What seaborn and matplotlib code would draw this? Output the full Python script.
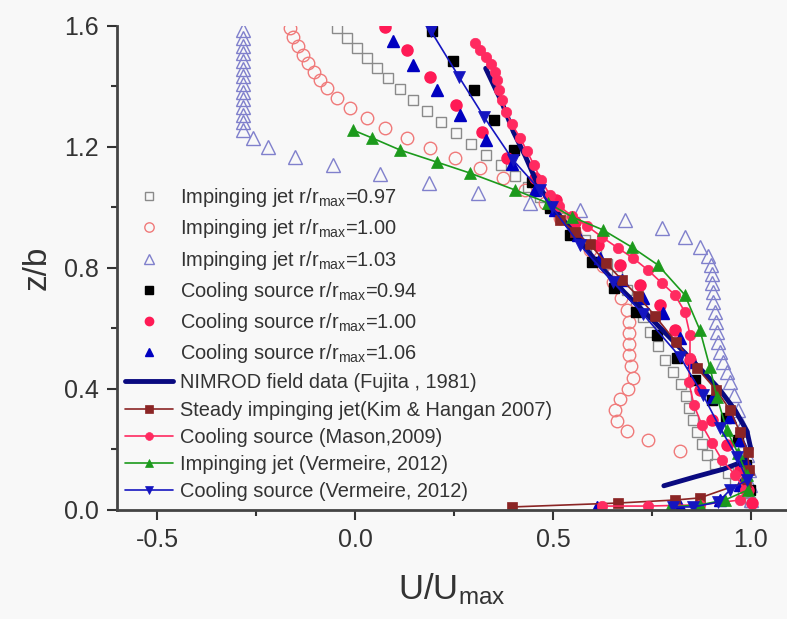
import matplotlib
matplotlib.use("Agg")
import matplotlib.pyplot as plt
import seaborn as sns
from matplotlib.ticker import MultipleLocator

# ---- data (U/Umax, z/b) ----
ij097_x = [-0.045, -0.020, 0.005, 0.030, 0.056, 0.083, 0.114, 0.146, 0.182, 0.217, 0.255, 0.293,
           0.331, 0.369, 0.404, 0.437, 0.467, 0.497, 0.525, 0.553, 0.581, 0.609, 0.636, 0.662,
           0.687, 0.710, 0.727, 0.745, 0.765, 0.783, 0.803, 0.823, 0.836, 0.843, 0.854, 0.864,
           0.876, 0.889, 0.909, 0.942, 0.960, 0.980, 0.997]
ij097_z = [1.593, 1.560, 1.527, 1.494, 1.461, 1.428, 1.392, 1.355, 1.319, 1.283, 1.246, 1.210,
           1.174, 1.140, 1.104, 1.068, 1.035, 1.002, 0.965, 0.929, 0.893, 0.853, 0.813, 0.774,
           0.727, 0.681, 0.638, 0.588, 0.542, 0.496, 0.456, 0.417, 0.377, 0.337, 0.298, 0.258,
           0.218, 0.182, 0.152, 0.122, 0.089, 0.056, 0.026]

ij100_x = [-0.164, -0.157, -0.144, -0.131, -0.119, -0.104, -0.088, -0.071, -0.045, -0.013, 0.030,
           0.076, 0.131, 0.189, 0.253, 0.316, 0.374, 0.429, 0.480, 0.518, 0.556, 0.593, 0.626,
           0.652, 0.672, 0.687, 0.692, 0.692, 0.692, 0.692, 0.697, 0.702, 0.689, 0.669, 0.657,
           0.662, 0.687, 0.740, 0.821]
ij100_z = [1.593, 1.564, 1.534, 1.504, 1.478, 1.448, 1.421, 1.395, 1.362, 1.329, 1.296,
           1.263, 1.230, 1.197, 1.164, 1.131, 1.098, 1.058, 1.015, 0.965, 0.912, 0.860, 0.807,
           0.754, 0.701, 0.661, 0.621, 0.585, 0.549, 0.512, 0.476, 0.436, 0.400, 0.367, 0.331,
           0.294, 0.261, 0.231, 0.195]

ij103_x = [-0.283] * 14 + [-0.258, -0.220, -0.152, -0.056, 0.063, 0.187, 0.311, 0.442, 0.568,
                           0.682, 0.775, 0.833, 0.871, 0.891, 0.899, 0.902, 0.902, 0.904, 0.904,
                           0.909, 0.912, 0.914, 0.917, 0.922, 0.929, 0.939, 0.947, 0.957, 0.967,
                           0.977, 0.985, 0.990, 0.995, 0.997, 1.000]
ij103_z = [1.587, 1.560, 1.534, 1.511, 1.484, 1.458, 1.435, 1.408, 1.382, 1.359, 1.332, 1.306,
           1.283, 1.256, 1.230, 1.200, 1.167, 1.140, 1.111, 1.081, 1.048, 1.015, 0.992, 0.959,
           0.932, 0.902, 0.869, 0.840, 0.810, 0.780, 0.750, 0.721, 0.688, 0.655, 0.621, 0.588,
           0.555, 0.522, 0.489, 0.456, 0.423, 0.380, 0.331, 0.281, 0.231, 0.182, 0.132, 0.083,
           0.033]

cs094_x = [0.194, 0.247, 0.301, 0.351, 0.402, 0.447, 0.492, 0.543, 0.598, 0.654, 0.710, 0.763,
           0.813, 0.859, 0.902, 0.937, 0.967, 0.987, 0.997]
cs094_z = [1.583, 1.484, 1.388, 1.289, 1.190, 1.084, 0.998, 0.909, 0.820, 0.734, 0.655, 0.579,
           0.502, 0.430, 0.364, 0.304, 0.231, 0.149, 0.066]

cs100_x = [0.076, 0.131, 0.189, 0.255, 0.321, 0.384, 0.455, 0.508, 0.556, 0.614, 0.669, 0.720,
           0.770, 0.808, 0.846, 0.871, 0.902, 0.939, 0.972, 0.992, 1.002]
cs100_z = [1.597, 1.521, 1.431, 1.339, 1.250, 1.164, 1.098, 1.025, 0.952, 0.876, 0.810, 0.744,
           0.678, 0.595, 0.496, 0.397, 0.298, 0.215, 0.132, 0.066, 0.023]

cs106_x = [0.096, 0.146, 0.207, 0.265, 0.331, 0.396, 0.455, 0.505, 0.563, 0.619, 0.674, 0.727,
           0.778, 0.821, 0.854, 0.904, 0.947, 0.972, 0.985, 0.972, 0.922, 0.821, 0.611]
cs106_z = [1.550, 1.471, 1.388, 1.306, 1.223, 1.144, 1.058, 0.992, 0.909, 0.833, 0.760, 0.701,
           0.651, 0.569, 0.489, 0.374, 0.307, 0.231, 0.165, 0.083, 0.033, 0.013, 0.010]

nimrod_x = [0.78, 0.86, 0.93, 0.98, 1.00, 0.99, 0.96, 0.92, 0.87, 0.81, 0.75, 0.68, 0.61, 0.55,
            0.50, 0.46, 0.43, 0.40, 0.37, 0.33]
nimrod_z = [0.08, 0.11, 0.135, 0.16, 0.20, 0.26, 0.33, 0.40, 0.47, 0.55, 0.63, 0.72, 0.82, 0.92,
            1.00, 1.08, 1.17, 1.25, 1.35, 1.46]

kim_x = [0.518, 0.556, 0.593, 0.634, 0.674, 0.715, 0.758, 0.811, 0.864, 0.912, 0.947, 0.972,
         0.992, 0.995, 0.987, 0.871, 0.808, 0.664, 0.396]
kim_z = [0.959, 0.919, 0.879, 0.817, 0.760, 0.707, 0.641, 0.555, 0.469, 0.397, 0.331, 0.258,
         0.192, 0.132, 0.093, 0.040, 0.033, 0.023, 0.010]

mason_x = [0.303, 0.316, 0.331, 0.343, 0.354, 0.359, 0.364, 0.371, 0.381, 0.396, 0.417, 0.434,
           0.452, 0.470, 0.492, 0.515, 0.548, 0.586, 0.624, 0.664, 0.702, 0.740, 0.775, 0.808,
           0.833, 0.846, 0.846, 0.843, 0.856, 0.876, 0.902, 0.927, 0.960, 0.985, 0.972, 0.871,
           0.740, 0.624]
mason_z = [1.544, 1.521, 1.498, 1.474, 1.448, 1.421, 1.388, 1.355, 1.316, 1.276, 1.230, 1.187,
           1.140, 1.091, 1.041, 1.005, 0.972, 0.939, 0.902, 0.866, 0.833, 0.793, 0.750, 0.711,
           0.655, 0.579, 0.502, 0.423, 0.347, 0.281, 0.221, 0.165, 0.116, 0.066, 0.033, 0.017,
           0.013, 0.013]

vij_x = [-0.005, 0.043, 0.114, 0.207, 0.290, 0.404, 0.487, 0.548, 0.626, 0.699, 0.765, 0.833,
         0.871, 0.896, 0.914, 0.939, 0.967, 0.990, 0.992, 0.934, 0.871, 0.795]
vij_z = [1.256, 1.230, 1.190, 1.150, 1.114, 1.058, 1.015, 0.969, 0.926, 0.869, 0.810, 0.711,
         0.595, 0.473, 0.374, 0.264, 0.188, 0.116, 0.066, 0.033, 0.017, 0.010]

vcs_x = [0.192, 0.263, 0.326, 0.399, 0.467, 0.497, 0.568, 0.652, 0.727, 0.821, 0.879, 0.922,
         0.965, 0.990, 0.947, 0.917, 0.854, 0.803]
vcs_z = [1.583, 1.431, 1.299, 1.157, 1.058, 1.002, 0.876, 0.754, 0.648, 0.506, 0.380, 0.271,
         0.175, 0.099, 0.066, 0.026, 0.010, 0.010]

sns.set_style("ticks")
plt.rcParams["font.family"] = ["Liberation Sans", "DejaVu Sans"]
plt.rcParams["mathtext.fontset"] = "custom"
plt.rcParams["mathtext.rm"] = "Liberation Sans"
plt.rcParams["mathtext.it"] = "Liberation Sans"

fig = plt.figure(figsize=(7.87, 6.19), dpi=100, facecolor="#f8f8f8")
ax = fig.add_axes([0.1487, 0.1761, 0.8513, 0.7819])
ax.set_facecolor("#f8f8f8")

sub = r"$_{\mathrm{max}}$"


def markers_only(x, z, marker, color, label, filled=True, ms=7):
    sns.lineplot(x=x, y=z, ax=ax, sort=False, estimator=None, linestyle="none",
                 marker=marker, markersize=ms, color=color,
                 markerfacecolor=color if filled else "none",
                 markeredgecolor=color, markeredgewidth=1.0, label=label)


def line_series(x, z, marker, color, label, lw=1.2, ms=7):
    sns.lineplot(x=x, y=z, ax=ax, sort=False, estimator=None, linewidth=lw,
                 marker=marker, markersize=ms, color=color, markerfacecolor=color,
                 markeredgecolor=color, markeredgewidth=0.5, label=label)


markers_only(ij097_x, ij097_z, "s", "#8a8a8a", "Impinging jet r/r" + sub + "=0.97", filled=False, ms=7.5)
markers_only(ij100_x, ij100_z, "o", "#f07a7a", "Impinging jet r/r" + sub + "=1.00", filled=False, ms=9)
markers_only(ij103_x, ij103_z, "^", "#8080cc", "Impinging jet r/r" + sub + "=1.03", filled=False, ms=9.5)
markers_only(cs094_x, cs094_z, "s", "#000000", "Cooling source r/r" + sub + "=0.94")
markers_only(cs100_x, cs100_z, "o", "#ff1a55", "Cooling source r/r" + sub + "=1.00", ms=8)
markers_only(cs106_x, cs106_z, "^", "#0000c0", "Cooling source r/r" + sub + "=1.06", ms=8.5)

sns.lineplot(x=nimrod_x, y=nimrod_z, ax=ax, sort=False, estimator=None, linewidth=3.5,
             color="#0a0a80", label="NIMROD field data (Fujita , 1981)")
line_series(kim_x, kim_z, "s", "#8b2525", "Steady impinging jet(Kim & Hangan 2007)")
line_series(mason_x, mason_z, "o", "#ff2a60", "Cooling source (Mason,2009)", ms=7.5)
line_series(vij_x, vij_z, "^", "#1c9a1c", "Impinging jet (Vermeire, 2012)", ms=8)
line_series(vcs_x, vcs_z, "v", "#1515c0", "Cooling source (Vermeire, 2012)", ms=8)

ax.set_xlim(-0.601, 1.091)
ax.set_ylim(0, 1.6)
ax.xaxis.set_major_locator(MultipleLocator(0.5))
ax.xaxis.set_minor_locator(MultipleLocator(0.25))
ax.yaxis.set_major_locator(MultipleLocator(0.4))
ax.yaxis.set_minor_locator(MultipleLocator(0.2))
ax.tick_params(which="major", length=7, width=1.5, labelsize=18, colors="#333333", pad=6)
ax.tick_params(which="minor", length=4, width=1.5, colors="#333333")
ax.xaxis.set_major_formatter(plt.FuncFormatter(lambda v, p: f"{v:.1f}"))
ax.yaxis.set_major_formatter(plt.FuncFormatter(lambda v, p: f"{v:.1f}"))

for side in ["top", "right"]:
    ax.spines[side].set_visible(False)
for side in ["left", "bottom"]:
    ax.spines[side].set_linewidth(2)
    ax.spines[side].set_color("#444444")

ax.set_xlabel(r"U/U$_{\mathrm{max}}$", fontsize=25, color="#333333", labelpad=14)
ax.set_ylabel("z/b", fontsize=24, color="#333333", labelpad=8)

leg = ax.legend(loc="upper left", bbox_to_anchor=(0.012, 0.669), frameon=False, fontsize=14.4,
                handlelength=2.4, handletextpad=0.35, labelspacing=0.41, borderpad=0,
                borderaxespad=0, numpoints=1, markerscale=0.75)
for t in leg.get_texts():
    t.set_color("#333333")

fig.savefig("out.png", dpi=100, facecolor=fig.get_facecolor())
